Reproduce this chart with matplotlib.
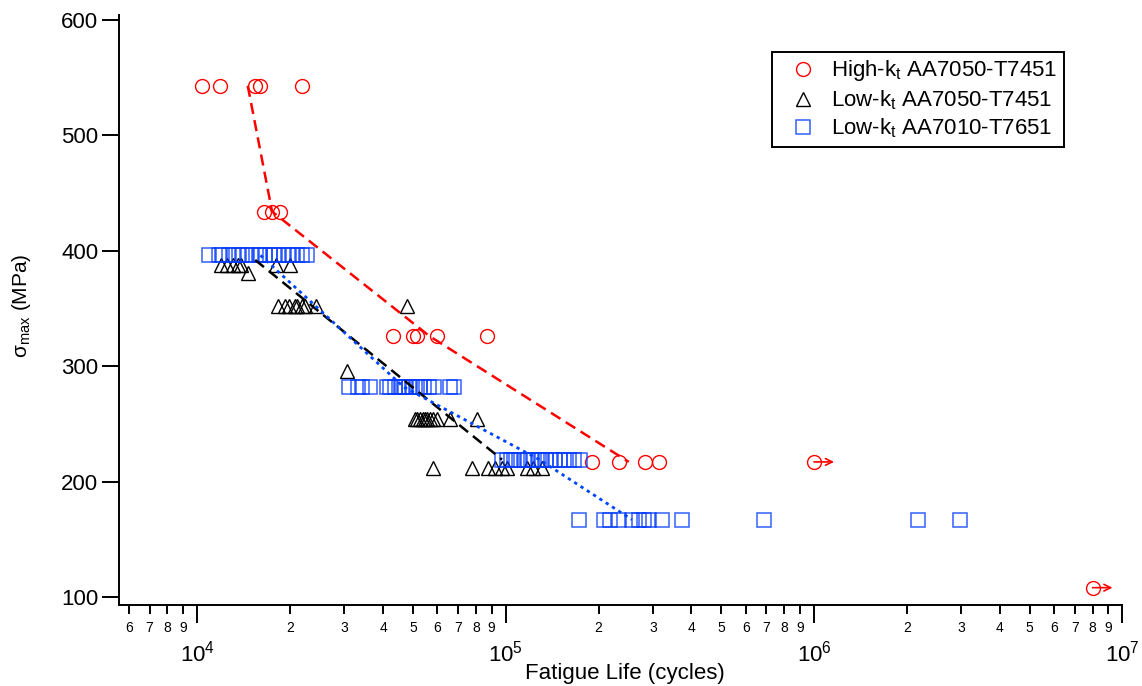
import numpy as np
import matplotlib.pyplot as plt
from matplotlib.ticker import FixedLocator, FuncFormatter, LogLocator, NullLocator

plt.rcParams['font.family'] = ['Liberation Sans', 'DejaVu Sans']
plt.rcParams['mathtext.default'] = 'regular'

# High-kt AA7050-T7451 (stress levels in MPa, lives in cycles)
hi_stress = [543, 434, 326, 217]
hi_life = [
    [10330, 11850, 15390, 15970, 21800],
    [16460, 17470, 18540],
    [43200, 49930, 51680, 60010, 86770],
    [190000, 233000, 282900, 314800],
]
hi_runout_stress = [217, 108]
hi_runout_life = [1.0e6, 8.0e6]

# Low-kt AA7050-T7451
lo50_stress = [388, 381, 352, 296, 254, 212]
lo50_life = [
    [11935, 12480, 13050, 13550, 13860, 18000, 19980],
    [14600],
    [18310, 19250, 19870, 20740, 21100, 21800, 22350, 24260, 47860],
    [30640],
    [50800, 51680, 52730, 53800, 54730, 55680, 56810, 58220, 60000, 65980, 80540],
    [57980, 77600, 87820, 92330, 97050, 100970, 116980, 122600, 130860],
]
lo50_fit_stress = [392, 219]
lo50_fit_life = [15400, 97300]

# Low-kt AA7010-T7651
lo10_stress = [396, 282, 219, 167]
lo10_life = [
    [10890, 11730, 12020, 12640, 13120, 13620, 13960, 14490, 15040, 15820, 16000,
     16610, 17240, 17690, 18360, 19060, 19780, 20280, 21050, 21850, 22680],
    [30970, 33120, 34200, 36390, 41220, 42250, 43850, 44980, 46100, 47250, 48480,
     49690, 51580, 52870, 54470, 56280, 58420, 66130, 68130],
    [97270, 100970, 104040, 106640, 110200, 114390, 117240, 120780, 123250, 127940,
     131130, 135400, 140250, 144810, 149660, 154210, 160080, 166160, 173780],
    [172460, 208800, 217880, 232500, 256700, 269900, 280200, 290900, 321200, 372900],
]
lo10_runout_stress = [167, 167, 167]
lo10_runout_life = [689600, 2167000, 2966000]


def flatten(stress, life):
    xs, ys = [], []
    for s, lv in zip(stress, life):
        xs += list(lv)
        ys += [s] * len(lv)
    return xs, ys


def level_means(life):
    # geometric mean life at each stress level
    return [10 ** np.mean(np.log10(lv)) for lv in life]


fig = plt.figure(figsize=(11.42, 6.86), dpi=100)
ax = fig.add_axes([0.1042, 0.1181, 0.8787, 0.8595])
ax.set_xscale('log')

blue = (0.0, 0.27, 1.0)
sq_edge = (0.0, 0.22, 1.0, 0.8)

x, y = flatten(hi_stress, hi_life)
ax.plot(x + hi_runout_life, y + hi_runout_stress, 'o', ms=10, mfc='none',
        mec='red', mew=1.0, label='High-k$_t$ AA7050-T7451')
x, y = flatten(lo50_stress, lo50_life)
ax.plot(x, y, '^', ms=10, mfc='none', mec='black', mew=1.0,
        label='Low-k$_t$ AA7050-T7451')
x, y = flatten(lo10_stress, lo10_life)
ax.plot(x + lo10_runout_life, y + lo10_runout_stress, 's', ms=10, mfc='none',
        mec=sq_edge, mew=1.1, label='Low-k$_t$ AA7010-T7651')

# trend lines
ax.plot(level_means(hi_life), hi_stress, color='red', lw=1.8,
        ls=(0, (4.5, 2.5)), zorder=3)
ax.plot(lo50_fit_life, lo50_fit_stress, color='black', lw=1.8,
        ls=(0, (4.5, 2.5)), zorder=3)
ax.plot(level_means(lo10_life), lo10_stress, color=blue, lw=2.0,
        ls=(0, (1.2, 1.5)), zorder=3)

# run-out arrows
for n, s in zip(hi_runout_life, hi_runout_stress):
    ax.annotate('', xy=(n * 1.16, s), xytext=(n, s),
                arrowprops=dict(arrowstyle='->', color='red', lw=1.2,
                                shrinkA=0, shrinkB=0, mutation_scale=12))

ax.set_xlim(5570, 1e7)
ax.set_ylim(93, 604)

ax.xaxis.set_major_locator(FixedLocator([1e4, 1e5, 1e6, 1e7]))
ax.xaxis.set_major_formatter(FuncFormatter(lambda v, p: '$10^{%d}$' % round(np.log10(v))))
ax.xaxis.set_minor_locator(LogLocator(base=10, subs=np.arange(2, 10)))
ax.xaxis.set_minor_formatter(FuncFormatter(
    lambda v, p: '%d' % round(v / 10 ** np.floor(np.log10(v) + 1e-9))))
ax.set_yticks(range(100, 601, 100))
ax.yaxis.set_minor_locator(NullLocator())

ax.tick_params(axis='x', which='major', length=12.7, width=1.4, pad=13, labelsize=16)
ax.tick_params(axis='x', which='minor', length=6.7, width=1.4, pad=5, labelsize=10)
ax.tick_params(axis='y', length=12, width=1.4, pad=3, labelsize=16)

for side in ['top', 'right']:
    ax.spines[side].set_visible(False)
for side in ['left', 'bottom']:
    ax.spines[side].set_linewidth(1.4)

ax.set_xlabel('Fatigue Life (cycles)', fontsize=16)
ax.xaxis.set_label_coords(0.504, -0.0985)
ax.set_ylabel('σ$_{max}$ (MPa)', fontsize=15)
ax.yaxis.set_label_coords(-0.086, 0.508)

leg = ax.legend(loc='upper left', bbox_to_anchor=(0.6757, 0.9246),
                bbox_transform=fig.transFigure, fontsize=16, numpoints=1,
                frameon=True, fancybox=False, edgecolor='black', framealpha=1,
                borderaxespad=0, borderpad=0.3, handlelength=2.2,
                handletextpad=0.18, labelspacing=0.22)
leg.get_frame().set_linewidth(1.4)

fig.savefig('out.png', dpi=100)
